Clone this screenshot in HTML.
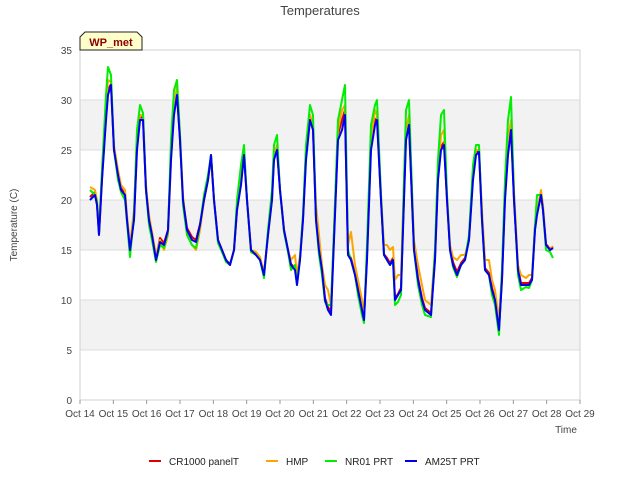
<!DOCTYPE html>
<html><head><meta charset="utf-8"><style>
body{margin:0;background:#fff;}
svg{font-family:"Liberation Sans",sans-serif;display:block}
</style></head><body>
<svg id="chart" width="640" height="480" xmlns="http://www.w3.org/2000/svg">
<rect width="640" height="480" fill="#fff"/>
<text x="320" y="15" text-anchor="middle" font-size="13" fill="#444">Temperatures</text>
<g id="plot"></g>
<text transform="translate(17,225) rotate(-90)" text-anchor="middle" font-size="10" fill="#444">Temperature (C)</text>
<text x="566" y="433" text-anchor="middle" font-size="10" fill="#444">Time</text>
<g>
<path d="M80,50 L80,37 L85,32 L137,32 L142,37 L142,50 Z" fill="#ffffcc" stroke="#222" stroke-width="1"/>
<text x="111" y="46" text-anchor="middle" font-size="11" font-weight="bold" fill="#8b0000">WP_met</text>
</g>
<g id="legend"></g>
</svg>
<script>
const categories=["Oct 14","Oct 15","Oct 16","Oct 17","Oct 18","Oct 19","Oct 20","Oct 21","Oct 22","Oct 23","Oct 24","Oct 25","Oct 26","Oct 27","Oct 28","Oct 29"];
const yTicks=[0,5,10,15,20,25,30,35];
const seriesNames=["CR1000 panelT","HMP","NR01 PRT","AM25T PRT"];
const times=[0.30,0.45,0.51,0.57,0.66,0.78,0.84,0.93,1.02,1.14,1.23,1.35,1.41,1.50,1.62,1.71,1.80,1.89,1.98,2.07,2.16,2.28,2.40,2.52,2.64,2.73,2.82,2.91,3.00,3.09,3.21,3.36,3.48,3.60,3.72,3.84,3.93,4.02,4.14,4.26,4.38,4.50,4.62,4.71,4.83,4.92,5.01,5.13,5.28,5.40,5.52,5.64,5.76,5.82,5.91,6.00,6.12,6.24,6.33,6.45,6.51,6.60,6.69,6.78,6.90,6.99,7.08,7.17,7.26,7.35,7.44,7.53,7.62,7.74,7.86,7.95,8.04,8.13,8.25,8.34,8.46,8.52,8.61,8.73,8.85,8.91,9.03,9.12,9.21,9.30,9.39,9.45,9.54,9.63,9.72,9.78,9.87,9.96,10.02,10.14,10.26,10.35,10.53,10.65,10.74,10.83,10.92,11.01,11.10,11.19,11.31,11.43,11.55,11.67,11.79,11.88,11.97,12.06,12.15,12.27,12.36,12.45,12.57,12.66,12.75,12.84,12.93,13.02,13.14,13.23,13.38,13.47,13.56,13.65,13.71,13.83,13.89,13.98,14.10,14.19];
const am25t=[20,20.5,19.5,16.5,22,28,30.5,31.5,25,22.5,21,20.5,18,15,18,25,28,28,21,18,16.5,14,15.8,15.5,17,24,28.5,30.5,26,20,17,16,15.8,17.5,20,22,24.5,20,16,15,14,13.5,15,19,21.5,24.5,20,15,14.5,14,12.5,16.5,20,24,25,21,17,15,13.5,13,11.5,14,18,24,28,27,18,15,13,10,9,8.5,16,26,27,28.5,14.5,14,12.5,11,9,8,14,25,27.5,28,20,14.5,14,13.5,14,10,10.5,11,20,26,27.5,20,15,12,10,9,8.5,14,22,25,25.5,20,15,13.5,12.5,13.5,14,16,22,24.5,24.8,18,13,12.5,11,10,7,12,20,24.5,27,20,13,11.5,11.5,11.5,12,17,18.5,20.5,19,15.5,15,15.2];
const cr1000=[20.3,20.8,19.6,16.6,22.2,28.5,31,31.6,25,22.6,21.2,20.6,18,15.2,18.2,25.5,28.2,28.3,21,18,16.6,14.2,16.2,15.7,17,24.5,29,30.8,26,20,17.2,16.3,16,17.6,20,22,24.5,20,16,15,14,13.6,15,19,21.8,24.8,20,15,14.6,14.1,12.6,16.6,20.2,24.5,25.2,21,17,15,13.6,13.2,11.8,14.2,18.2,24.5,28.5,27.2,18.2,15.2,13.2,10.2,9.3,8.8,16.5,26.5,28,29,14.6,14.2,12.6,11.2,9.2,8.2,14.5,25.5,28,28.2,20,14.6,14.2,13.7,14.2,10.2,10.6,11.2,20.5,26.5,27.8,20,15.2,12.2,10.2,9.2,8.7,14.2,22.5,25.3,25.8,20,15.2,13.8,12.8,13.7,14.2,16.2,22.5,24.8,25,18.2,13.2,12.7,11.2,10.2,7.2,12.2,20.5,25,27.5,20,13.2,11.7,11.7,11.7,12.2,17.2,18.8,20.8,19,15.6,15.1,15.3];
const hmp=[21.3,21,20,17,23,29.5,32,31.8,25.5,23,21.5,21,18.5,15.5,19,26.5,28.5,28.5,21.5,18.5,16.8,14.5,16,15,16.5,24,29,31.5,26.5,20.5,16.5,15.5,15,17,20,22,24,20,16,15,14,13.5,15,19,22,25,20,15,14.8,14.3,12.8,16.5,20,24.5,25.5,21,17,15,14,14.5,12.5,14.5,18.5,25,28.5,27,19.5,16.5,13.5,11.5,11,9.5,17,27,29,29.5,15.5,16.8,13.5,12,10,8.5,15,26,29,28.5,20.5,15.5,15.5,15,15.3,12,12.5,12.5,22,27,28.5,21,16,13.5,11.5,10,9.5,15,23,26.5,27,20.5,15.5,14.3,14,14.5,14.5,16,23,25,25,19,14,14,12,11,8,13,21,26,28,21,13.5,12.5,12.2,12.5,12.5,17.5,19,21,19.5,15.5,15,15.4];
const nr01=[21,20.5,19.8,16.6,23,30.5,33.3,32.5,25,22,20.8,20,17.8,14.3,18.5,27,29.5,28.7,21,17.5,16,13.8,15.5,15.2,16.8,26,31,32,26.5,19.5,16.5,15.5,15.2,17.5,20.5,22.5,24.5,20,15.7,14.8,13.8,13.5,15,20,23.5,25.5,20,14.8,14.5,14,12.2,17,21,25.5,26.5,21,16.8,14.8,13,13.5,11.5,14.2,18.5,25.5,29.5,28.5,18,14.5,12.5,9.8,9.5,9.5,17,28,30,31.5,15,14,12.5,10.5,8.5,7.7,15.5,27.5,29.5,30,20.5,14.5,14,13.5,14,9.5,9.8,10.5,22,29,30,21,15,11.5,9.5,8.5,8.3,15,24,28.5,29,20.5,15,13.3,12.3,13.5,14,16.5,23.5,25.5,25.5,18,13,12.5,10.5,9.5,6.5,13,22,28,30.3,20.5,12.5,11,11.3,11.2,12,17.5,20.5,20.5,19,15,14.8,14.2];
const colors=["#dd0000","orange","#00ee00","#0000ee"];
const seriesData=[cr1000,hmp,nr01,am25t];

const NS="http://www.w3.org/2000/svg";
const L=80,R=580,T=50,B=400,xMin=0,xMax=15,yMin=0,yMax=35;
function xs(d){return L+(d-xMin)/(xMax-xMin)*(R-L);}
function ys(v){return B-(v-yMin)/(yMax-yMin)*(B-T);}
const plot=document.getElementById('plot');
function mk(tag,attrs,parent){const e=document.createElementNS(NS,tag);for(const k in attrs)e.setAttribute(k,attrs[k]);parent.appendChild(e);return e;}
// shaded bands
for(let i=0;i<yTicks.length-1;i++){
  if(i%2===1){
    const r=mk('rect',{x:L,y:ys(yTicks[i+1]),width:R-L,height:ys(yTicks[i])-ys(yTicks[i+1]),fill:'#f2f2f2'},plot);
    
    
  }
}
yTicks.forEach(v=>{
  const g=mk('line',{x1:L,x2:R,y1:ys(v),y2:ys(v),stroke:'#dcdcdc','stroke-width':1},plot);
  
  
  const t=mk('text',{x:L-8,y:ys(v)+4,'text-anchor':'end','font-size':10,fill:'#444'},plot);
  t.textContent=v;
  
  
});
const fr=mk('rect',{x:L,y:T,width:R-L,height:B-T,fill:'none',stroke:'#d0d0d0'},plot);


categories.forEach((c,i)=>{
  const tk=mk('line',{x1:xs(i),x2:xs(i),y1:B,y2:B+4,stroke:'#999'},plot);
  
  
  const t=mk('text',{x:xs(i),y:B+17,'text-anchor':'middle','font-size':10,fill:'#444'},plot);
  t.textContent=c;
  
  
});
seriesData.forEach((arr,s)=>{
  const d=arr.map((v,i)=>(i?'L':'M')+xs(times[i]).toFixed(1)+','+ys(v).toFixed(1)).join(' ');
  const p=mk('path',{d:d,fill:'none',stroke:colors[s],'stroke-width':2,'stroke-linejoin':'round'},plot);
  
  
});
const lg=document.getElementById('legend');
const lx=[149,266,325,405];
seriesNames.forEach((n,i)=>{
  const g=mk('g',{},lg);
  
  
  mk('line',{x1:lx[i],x2:lx[i]+12,y1:461,y2:461,stroke:colors[i],'stroke-width':2},g);
  const t=mk('text',{x:lx[i]+20,y:465,'font-size':10,fill:'#222'},g);
  t.textContent=n;
});
</script>
</body></html>
